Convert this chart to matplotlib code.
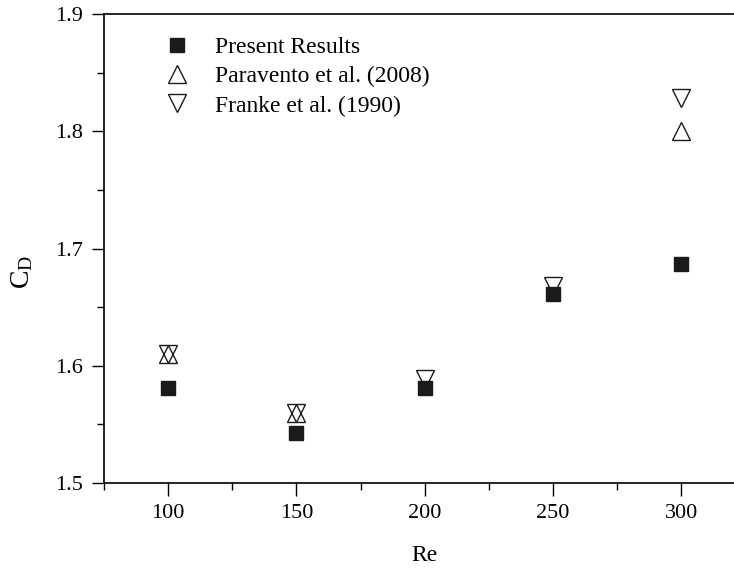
import matplotlib
matplotlib.use('Agg')
import matplotlib.pyplot as plt
from matplotlib.ticker import MultipleLocator

# data
re_present = [100, 150, 200, 250, 300]
cd_present = [1.581, 1.543, 1.581, 1.661, 1.687]

re_paravento = [100, 150, 300]
cd_paravento = [1.61, 1.56, 1.80]

re_franke = [100, 150, 200, 250, 300]
cd_franke = [1.61, 1.56, 1.589, 1.668, 1.828]

plt.rcParams['font.family'] = ['Liberation Serif', 'DejaVu Serif']
plt.rcParams['mathtext.fontset'] = 'custom'
plt.rcParams['mathtext.rm'] = 'Liberation Serif'
plt.rcParams['mathtext.it'] = 'Liberation Serif'

fig = plt.figure(figsize=(7.34, 5.68), dpi=100)
# right spine lies just outside the picture (x = 325)
ax = fig.add_axes([104/734, 1 - 483/568, 641.5/734, (483 - 14)/568])

ax.plot(re_present, cd_present, ls='none', marker='s', ms=9.5,
        mfc='#1a1a1a', mec='#1a1a1a', label='Present Results')
ax.plot(re_paravento, cd_paravento, ls='none', marker='^', ms=13,
        mfc='white', mec='#1a1a1a', mew=1.0, label='Paravento et al. (2008)')
ax.plot(re_franke, cd_franke, ls='none', marker='v', ms=13,
        mfc='none', mec='#1a1a1a', mew=1.0, label='Franke et al. (1990)')

ax.set_xlim(75, 325)
ax.set_ylim(1.5, 1.9)
ax.xaxis.set_major_locator(MultipleLocator(50))
ax.xaxis.set_minor_locator(MultipleLocator(25))
ax.yaxis.set_major_locator(MultipleLocator(0.1))
ax.yaxis.set_minor_locator(MultipleLocator(0.05))
ax.tick_params(which='major', direction='out', length=9, width=1, labelsize=16, pad=6)
ax.tick_params(which='minor', direction='out', length=5, width=1)
ax.spines['right'].set_visible(False)
for s in ['left', 'bottom', 'top']:
    ax.spines[s].set_linewidth(1.2)

ax.set_xlabel('Re', fontsize=17, labelpad=16)
ax.set_ylabel(r'$\mathregular{C_D}$', fontsize=20, va='center', ha='center')
ax.yaxis.set_label_coords(-0.128, 0.45)

leg = ax.legend(loc='upper left', bbox_to_anchor=(0.096, 0.952), frameon=False,
                fontsize=17, handlelength=1.0, handletextpad=1.1,
                labelspacing=0.33, borderpad=0, borderaxespad=0, numpoints=1)

fig.savefig('out.png', dpi=100)
